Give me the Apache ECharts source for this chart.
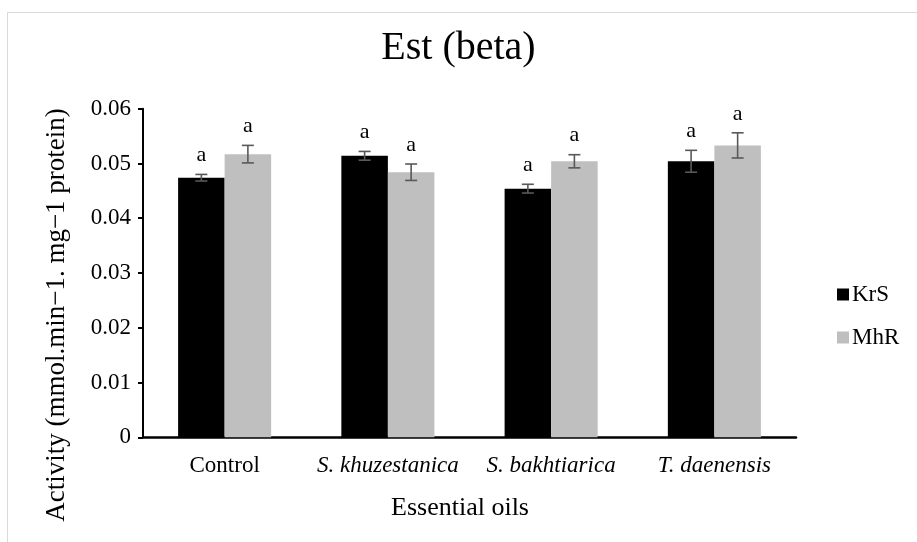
<!DOCTYPE html>
<html>
<head>
<meta charset="utf-8">
<script src="https://cdn.jsdelivr.net/npm/echarts@6/dist/echarts.min.js"></script>
<style>html,body{margin:0;padding:0;background:#fff;}#c{width:917px;height:542px;}</style>
</head>
<body>
<div id="c"></div>
<script>
var categories = ['Control', 'S. khuzestanica', 'S. bakhtiarica', 'T. daenensis'];
var krs = [0.0474, 0.0514, 0.0454, 0.0504];
var mhr = [0.0517, 0.0484, 0.0504, 0.0533];
var krsErr = [0.0006, 0.0008, 0.0008, 0.0020];
var mhrErr = [0.0016, 0.0015, 0.0012, 0.0023];
var krsLetters = ['a', 'a', 'a', 'a'];
var mhrLetters = ['a', 'a', 'a', 'a'];
var yTicks = [0, 0.01, 0.02, 0.03, 0.04, 0.05, 0.06];

var FONT = '"Liberation Serif", "Times New Roman", serif';
var GAP = 0.43;

function errData(vals, errs, letters) {
  return vals.map(function (v, i) { return [i, v, errs[i], letters[i]]; });
}
function errRender(side) {
  return function (params, api) {
    var idx = api.value(0), v = api.value(1), e = api.value(2);
    var band = api.size([1, 0])[0];
    var off = side * band * (1 - GAP) / 4;
    var top = api.coord([idx, v + e]);
    var bot = api.coord([idx, v - e]);
    var x = top[0] + off;
    var cap = 6;
    var st = { stroke: '#595959', lineWidth: 1.6 };
    return {
      type: 'group',
      children: [
        { type: 'line', shape: { x1: x, y1: top[1], x2: x, y2: bot[1] }, style: st },
        { type: 'line', shape: { x1: x - cap, y1: top[1], x2: x + cap, y2: top[1] }, style: st },
        { type: 'line', shape: { x1: x - cap, y1: bot[1], x2: x + cap, y2: bot[1] }, style: st },
        { type: 'text', style: { x: x, y: top[1] - 19, text: api.value(3), fill: '#000', font: '22px ' + FONT, textAlign: 'center', textVerticalAlign: 'middle' } }
      ]
    };
  };
}

var chart = echarts.init(document.getElementById('c'), null, { renderer: 'canvas' });
chart.setOption({
  animation: false,
  backgroundColor: '#fff',
  title: {
    text: 'Est (beta)', left: 'center', top: 23,
    textStyle: { fontFamily: FONT, fontSize: 40, fontWeight: 'normal', color: '#000' }
  },
  legend: {
    data: ['KrS', 'MhR'], orient: 'vertical', left: 832, top: 278,
    itemWidth: 12, itemHeight: 12, itemGap: 20, icon: 'rect',
    textStyle: { fontFamily: FONT, fontSize: 23, color: '#000', padding: [0, 0, 0, -2] }
  },
  grid: { left: 143, right: 121, top: 108.7, bottom: 104.7, containLabel: false },
  graphic: [
    { type: 'rect', shape: { x: 7.5, y: 12.5, width: 1000, height: 1000 }, style: { fill: 'none', stroke: '#d9d9d9', lineWidth: 1 }, silent: true, z: -1 },
    { type: 'text', x: 57, y: 315, rotation: Math.PI / 2,
      style: { text: 'Activity (mmol.min\u22121. mg\u22121 protein)', font: '27px ' + FONT, fill: '#000', textAlign: 'center', textVerticalAlign: 'middle' } },
    { type: 'text', x: 460, y: 508,
      style: { text: 'Essential oils', font: '26px ' + FONT, fill: '#000', textAlign: 'center', textVerticalAlign: 'middle' } }
  ],
  xAxis: {
    type: 'category', data: categories,
    axisLine: { lineStyle: { color: '#000', width: 2.5 } },
    axisTick: { show: false },
    axisLabel: {
      margin: 17, interval: 0,
      formatter: function (v, i) { return i === 0 ? '{n|' + v + '}' : '{i|' + v + '}'; },
      rich: {
        n: { fontFamily: FONT, fontSize: 23, color: '#000' },
        i: { fontFamily: FONT, fontSize: 23, fontStyle: 'italic', color: '#000' }
      }
    }
  },
  yAxis: {
    type: 'value', min: 0, max: 0.06, interval: 0.01,
    axisLine: { show: true, lineStyle: { color: '#000', width: 2 } },
    axisTick: { show: true, length: 5, lineStyle: { color: '#000', width: 2 } },
    splitLine: { show: false },
    axisLabel: {
      margin: 12, color: '#000', fontFamily: FONT, fontSize: 23,
      formatter: function (v) {
        for (var k = 0; k < yTicks.length; k++) if (Math.abs(yTicks[k] - v) < 1e-9) return String(yTicks[k]);
        return '';
      }
    }
  },
  series: [
    { name: 'KrS', type: 'bar', data: krs, barGap: '0%', barCategoryGap: (GAP * 100) + '%', itemStyle: { color: '#000000' } },
    { name: 'MhR', type: 'bar', data: mhr, barGap: '0%', barCategoryGap: (GAP * 100) + '%', itemStyle: { color: '#bfbfbf' } },
    { type: 'custom', data: errData(krs, krsErr, krsLetters), renderItem: errRender(-1), encode: { x: 0, y: 1 }, z: 5, silent: true },
    { type: 'custom', data: errData(mhr, mhrErr, mhrLetters), renderItem: errRender(1), encode: { x: 0, y: 1 }, z: 5, silent: true }
  ]
});
</script>
</body>
</html>
